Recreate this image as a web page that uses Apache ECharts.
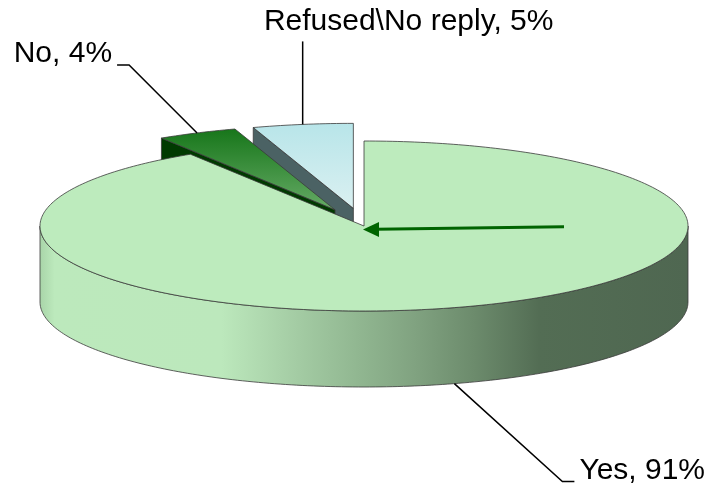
<!DOCTYPE html>
<html>
<head>
<meta charset="utf-8">
<script src="https://cdn.jsdelivr.net/npm/echarts@6/dist/echarts.min.js"></script>
<style>
  html, body { margin: 0; padding: 0; background: #fff; }
  #chart { width: 714px; height: 491px; }
</style>
</head>
<body>
<div id="chart"></div>
<script>
// data
var categories = ['Yes', 'No', 'Refused\\No reply'];
var percents = [91, 4, 5];
var explodedCats = ['No', 'Refused\\No reply'];

// layout of the flattened pie
var CX = 364, CY = 226, RX = 324, RY = 85, DEPTH = 76, EXPLODE = 0.21;
var FONT = '30px "Liberation Sans", Arial, sans-serif';

// styles per slice
var topFills = [
  '#bdebbd',
  { type: 'linear', x: 0, y: 0, x2: 0, y2: 1, colorStops: [{ offset: 0, color: '#17761a' }, { offset: 1, color: '#66ab66' }] },
  { type: 'linear', x: 0, y: 0, x2: 0, y2: 1, colorStops: [{ offset: 0, color: '#b8e5e9' }, { offset: 1, color: '#daf0f1' }] }
];
var sideFills = [
  { type: 'linear', x: 0, y: 0, x2: 1, y2: 0, colorStops: [
    { offset: 0, color: '#a8d4a8' }, { offset: 0.023, color: '#bce9bc' },
    { offset: 0.28, color: '#bce8bc' }, { offset: 0.40, color: '#a3cba3' },
    { offset: 0.49, color: '#91b791' }, { offset: 0.58, color: '#80a280' },
    { offset: 0.67, color: '#6c8b6c' }, { offset: 0.77, color: '#536d54' },
    { offset: 1, color: '#4f6751' }] },
  '#003a00',
  '#4b6264'
];

var total = percents.reduce(function (a, b) { return a + b; }, 0);
var starts = [], ends = [], acc = 0;
percents.forEach(function (v) {
  starts.push(acc / total * 360);
  acc += v;
  ends.push(acc / total * 360);
});
// back slices are drawn first
var order = percents.map(function (v, i) { return i; }).sort(function (a, b) {
  var ma = (starts[a] + ends[a]) / 2, mb = (starts[b] + ends[b]) / 2;
  return Math.cos(mb * Math.PI / 180) - Math.cos(ma * Math.PI / 180);
});

function pt(theta, off, dz) {
  var r = theta * Math.PI / 180;
  return [CX + off[0] + RX * Math.sin(r), CY + off[1] - RY * Math.cos(r) + dz];
}
function arc(a0, a1, off, dz) {
  var pts = [], n = Math.max(2, Math.ceil(a1 - a0));
  for (var k = 0; k <= n; k++) pts.push(pt(a0 + (a1 - a0) * k / n, off, dz));
  return pts;
}

function renderItem(params, api) {
  var i = params.dataIndex;
  var a0 = starts[i], a1 = ends[i], mid = (a0 + a1) / 2;
  var mr = mid * Math.PI / 180;
  var off = explodedCats.indexOf(categories[i]) >= 0
    ? [EXPLODE * RX * Math.sin(mr), -EXPLODE * RY * Math.cos(mr)] : [0, 0];
  var base = order.indexOf(i) * 10;
  var c = [CX + off[0], CY + off[1]];
  var edge = { stroke: '#3a3a3a', lineWidth: 0.8 };
  var kids = [];

  // radial faces turned towards the viewer
  if (Math.sin(a0 * Math.PI / 180) < -1e-6) {
    var p = pt(a0, off, 0);
    kids.push({ type: 'polygon', z2: base + 1,
      shape: { points: [c, p, [p[0], p[1] + DEPTH], [c[0], c[1] + DEPTH]] },
      style: Object.assign({ fill: sideFills[i] }, edge) });
  }
  if (Math.sin(a1 * Math.PI / 180) > 1e-6) {
    var q = pt(a1, off, 0);
    kids.push({ type: 'polygon', z2: base + 1,
      shape: { points: [c, q, [q[0], q[1] + DEPTH], [c[0], c[1] + DEPTH]] },
      style: Object.assign({ fill: sideFills[i] }, edge) });
  }
  // front part of the rim
  var lo = Math.max(a0, 90), hi = Math.min(a1, 270);
  if (lo < hi) {
    kids.push({ type: 'polygon', z2: base + 2,
      shape: { points: arc(lo, hi, off, 0).concat(arc(lo, hi, off, DEPTH).reverse()) },
      style: Object.assign({ fill: sideFills[i] }, edge) });
  }
  // top face
  kids.push({ type: 'polygon', z2: base + 3,
    shape: { points: [c].concat(arc(a0, a1, off, 0)) },
    style: Object.assign({ fill: topFills[i] }, edge) });

  // label with leader line
  var text = categories[i] + ', ' + api.value(0) + '%';
  var line, lab;
  if (i === 0) {
    var s = pt(mid, off, DEPTH);
    var e = [s[0] + 108, s[1] + 98];
    line = [s, e, [e[0] + 12, e[1]]];
    lab = { x: e[0] + 17, y: e[1] - 11, textAlign: 'left' };
  } else if (Math.abs(Math.sin(mr)) > 0.3) {
    var s2 = pt(mid, off, 0);
    var e2 = [s2[0] - 68, s2[1] - 68];
    line = [s2, e2, [e2[0] - 12, e2[1]]];
    lab = { x: e2[0] - 17, y: e2[1] - 11, textAlign: 'right' };
  } else {
    var s3 = pt(mid, off, 0);
    var e3 = [s3[0], s3[1] - 83];
    line = [s3, e3];
    lab = { x: s3[0] + 106, y: e3[1] - 20, textAlign: 'center' };
  }
  kids.push({ type: 'polyline', z2: 100, shape: { points: line },
    style: { stroke: '#000', lineWidth: 1.5, fill: null } });
  kids.push({ type: 'text', z2: 101,
    style: { text: text, x: lab.x, y: lab.y, font: FONT, fill: '#000',
      textAlign: lab.textAlign, textVerticalAlign: 'middle' } });

  // arrow pointing at the centre of the big slice
  if (i === 0) {
    kids.push({ type: 'line', z2: 90,
      shape: { x1: CX + 200, y1: CY + 0.7, x2: CX + 12, y2: CY + 3.2 },
      style: { stroke: '#006400', lineWidth: 3 } });
    kids.push({ type: 'polygon', z2: 91,
      shape: { points: [[CX - 1, CY + 3.5], [CX + 15, CY - 4], [CX + 15, CY + 11]] },
      style: { fill: '#006400' } });
  }
  return { type: 'group', children: kids };
}

var myChart = echarts.init(document.getElementById('chart'));
myChart.setOption({
  animation: false,
  series: [{
    type: 'custom',
    coordinateSystem: 'none',
    renderItem: renderItem,
    data: percents.map(function (v) { return [v]; })
  }]
});
</script>
</body>
</html>
